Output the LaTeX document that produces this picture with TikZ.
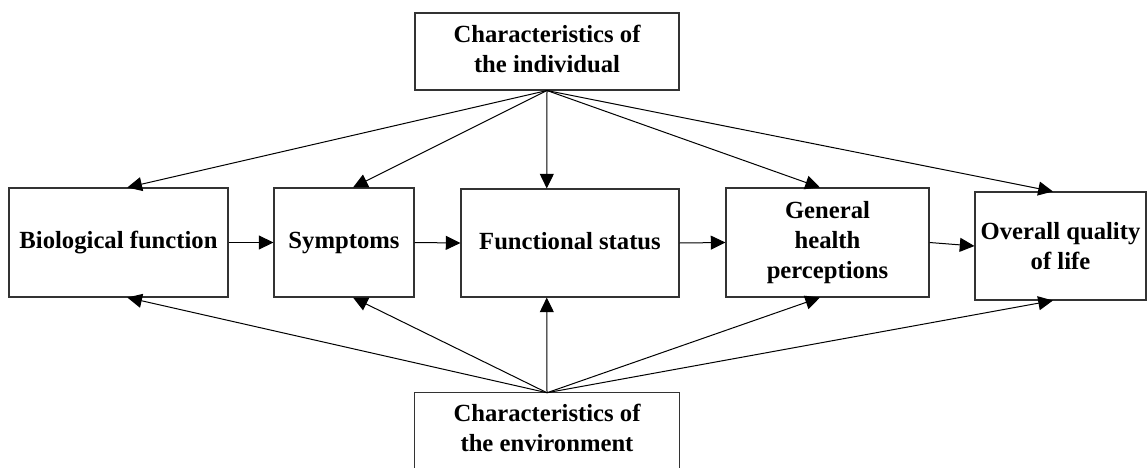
\documentclass[tikz,border=0pt]{standalone}
\usepackage{fontspec}
\setmainfont{Liberation Serif}
\usetikzlibrary{arrows.meta,calc}
\begin{document}
\begin{tikzpicture}[x=0.75pt,y=-0.75pt,
  box/.style={draw=black!80,line width=0.8pt,fill=white,align=center,inner sep=2pt,
    font=\bfseries\fontsize{18.5}{22.5}\selectfont},
  txt/.style={align=center,inner sep=0pt,font=\bfseries\fontsize{18.5}{22.5}\selectfont},
  arr/.style={line width=0.75pt,-{Triangle[length=11pt,width=10.5pt]}}]
\useasboundingbox (0,0) rectangle (1147,468);
\fill[white] (0,0) rectangle (1147,468);
\coordinate (cut) at (0,468);
\node[box,minimum width=198pt,minimum height=57.75pt] (top) at (547,51.5) {};
\node[txt] (toptext) at (547,48.5) {Characteristics of\\the individual};
\node[box,minimum width=164.25pt,minimum height=81.75pt] (bio) at (118.5,242.5) {Biological function};
\node[box,minimum width=105pt,minimum height=81.75pt] (sym) at (344,242.5) {\strut Symptoms};
\node[box,minimum width=163.5pt,minimum height=81pt] (fun) at (570,243) {\strut Functional status};
\node[box,minimum width=152.25pt,minimum height=81.75pt] (ghp) at (827.5,242.5) {General\\health\\perceptions};
\node[box,minimum width=128.25pt,minimum height=81pt] (ovr) at (1060.5,246) {Overall quality\\of life};
\node[txt,minimum width=198pt,minimum height=52.5pt] (bot) at (547,428) {Characteristics of\\the environment};
\draw[draw=black!80,line width=0.8pt] (bot.north west |- cut) -- (bot.north west) -- (bot.north east) -- (bot.north east |- cut);
% from individual
\draw[arr] (top.south) -- ($(bio.north west)!0.54!(bio.north east)$);
\draw[arr] (top.south) -- ($(sym.north west)!0.564!(sym.north east)$);
\draw[arr] (top.south) -- ($(fun.north west)!0.394!(fun.north east)$);
\draw[arr] (top.south) -- ($(ghp.north west)!0.463!(ghp.north east)$);
\draw[arr] (top.south) -- ($(ovr.north west)!0.456!(ovr.north east)$);
% from environment
\draw[arr] (bot.north) -- ($(bio.south west)!0.54!(bio.south east)$);
\draw[arr] (bot.north) -- ($(sym.south west)!0.564!(sym.south east)$);
\draw[arr] (bot.north) -- ($(fun.south west)!0.394!(fun.south east)$);
\draw[arr] (bot.north) -- ($(ghp.south west)!0.463!(ghp.south east)$);
\draw[arr] (bot.north) -- ($(ovr.south west)!0.456!(ovr.south east)$);
% chain
\draw[arr] (bio.east) -- (sym.west);
\draw[arr] (sym.east) -- (fun.west);
\draw[arr] (fun.east) -- (ghp.west);
\draw[arr] (ghp.east) -- (ovr.west);
\end{tikzpicture}
\end{document}
